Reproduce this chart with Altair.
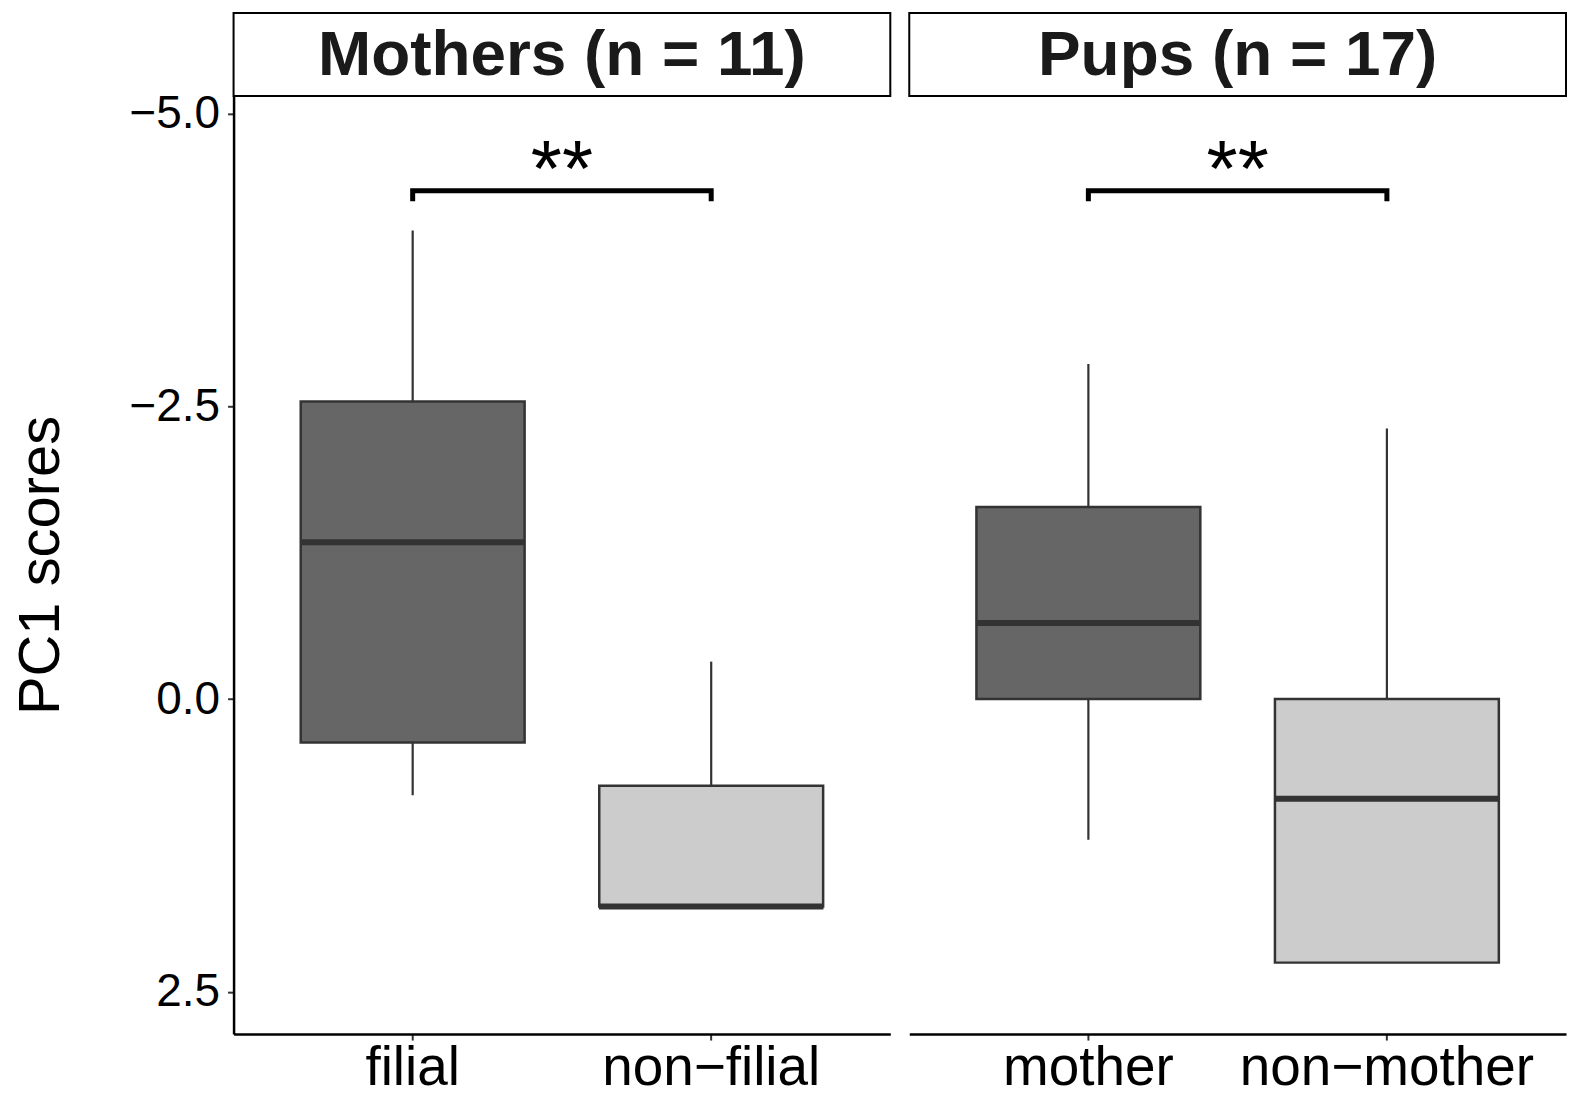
import altair as alt
import pandas as pd

# box statistics (PC1 scores, axis reversed)
mothers_groups = ["filial", "non−filial"]
mothers_min = [-4.00, -0.32]
mothers_q1 = [-2.54, 0.74]
mothers_median = [-1.34, 1.77]
mothers_q3 = [0.37, 1.77]
mothers_max = [0.82, 1.77]

pups_groups = ["mother", "non−mother"]
pups_min = [-2.86, -2.31]
pups_q1 = [-1.64, 0.00]
pups_median = [-0.65, 0.85]
pups_q3 = [0.00, 2.25]
pups_max = [1.20, 2.25]

fills = ["#666666", "#CCCCCC"]
panel_titles = ["Mothers (n = 11)", "Pups (n = 17)"]
bracket_y = [-4.25, -4.34, -4.34, -4.25]
star_label = "**"
star_y = -4.50

y_domain = [-5.15, 2.86]
y_ticks = [-5.0, -2.5, 0.0, 2.5]

PANEL_W = 658
PANEL_H = 940
HEADER_H = 83
FONT = "Liberation Sans"


def make_panel(groups, lo, q1, med, q3, hi, title, show_y):
    df = pd.DataFrame({"group": groups, "lo": lo, "q1": q1, "med": med,
                       "q3": q3, "hi": hi, "fill": fills})
    br = pd.DataFrame({"group": [groups[0], groups[0], groups[1], groups[1]],
                       "y": bracket_y, "k": [0, 1, 2, 3]})
    head = pd.DataFrame({"title": [title], "star": [star_label], "sy": [star_y]})

    xs = alt.Scale(domain=groups, paddingInner=0, paddingOuter=0.1)
    x = alt.X("group:N", scale=xs, sort=groups,
              axis=alt.Axis(title=None, labelAngle=0, labelLimit=500))
    ys = alt.Scale(domain=y_domain, reverse=True, nice=False, zero=False)
    if show_y:
        yax = alt.Axis(title="PC1 scores", values=y_ticks, format=".1f", grid=False)
        y = alt.Y("lo:Q", scale=ys, axis=yax)
    else:
        y = alt.Y("lo:Q", scale=ys, axis=None)

    whisk = alt.Chart(df).mark_rule(color="#333333", strokeWidth=2.2).encode(
        x=x, y=y, y2="hi:Q")
    box = alt.Chart(df).mark_bar(
        width=alt.RelativeBandSize(0.75), stroke="#333333", strokeWidth=2.5
    ).encode(x=x, y=alt.Y("q1:Q", scale=ys), y2="q3:Q",
             fill=alt.Fill("fill:N", scale=None))
    median = alt.Chart(df).mark_tick(color="#333333", thickness=6, size=225, opacity=1).encode(
        x=x, y=alt.Y("med:Q", scale=ys))
    bracket = alt.Chart(br).mark_line(color="black", strokeWidth=5, strokeCap="butt",
                                      strokeJoin="miter").encode(
        x=x, y=alt.Y("y:Q", scale=ys), order="k:Q")
    star = alt.Chart(head).mark_text(fontSize=80, font=FONT, color="black",
                                     baseline="middle").encode(
        x=alt.value(PANEL_W / 2), y=alt.Y("sy:Q", scale=ys), text="star:N")
    strip = alt.Chart(head).mark_rect(fill="white", stroke="black", strokeWidth=2).encode(
        x=alt.value(0), x2=alt.value(PANEL_W), y=alt.value(-HEADER_H), y2=alt.value(0))
    strip_text = alt.Chart(head).mark_text(fontSize=64, font=FONT, fontWeight="bold",
                                           color="#1a1a1a", baseline="middle").encode(
        x=alt.value(PANEL_W / 2), y=alt.value(-HEADER_H / 2 + 2), text="title:N")

    return alt.layer(whisk, box, median, bracket, star, strip, strip_text).properties(
        width=PANEL_W, height=PANEL_H)


left = make_panel(mothers_groups, mothers_min, mothers_q1, mothers_median,
                  mothers_q3, mothers_max, panel_titles[0], True)
right = make_panel(pups_groups, pups_min, pups_q1, pups_median,
                   pups_q3, pups_max, panel_titles[1], False)

chart = alt.hconcat(left, right, spacing=17).resolve_scale(
    x="independent", y="shared"
).properties(
    padding={"left": 4, "top": 3, "right": 0, "bottom": 0}
).configure_view(
    strokeWidth=0
).configure_axis(
    domainColor="black", domainWidth=2.5, tickColor="#333333", tickWidth=2,
    tickSize=6, labelColor="black", labelFont=FONT, titleFont=FONT,
    titleColor="black", titleFontWeight="normal"
).configure_axisX(
    labelFontSize=55, labelPadding=2
).configure_axisY(
    labelFontSize=46, labelPadding=8, titleFontSize=58, titlePadding=59
)

chart.save("out.html", embed_options={"renderer": "svg", "actions": False})
